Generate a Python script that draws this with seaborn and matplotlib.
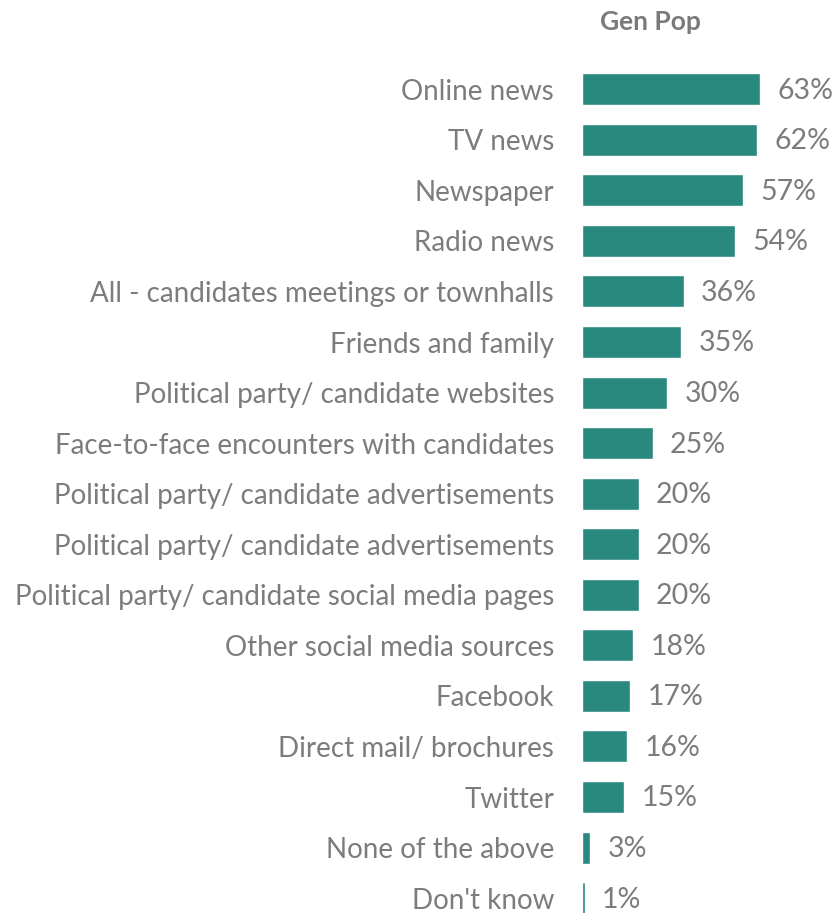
import matplotlib
matplotlib.use("Agg")
import matplotlib.pyplot as plt
import seaborn as sns
import pandas as pd

# Information sources and share of the general population using each
categories = [
    "Online news",
    "TV news",
    "Newspaper",
    "Radio news",
    "All - candidates meetings or townhalls",
    "Friends and family",
    "Political party/ candidate websites",
    "Face-to-face encounters with candidates",
    "Political party/ candidate advertisements",
    "Political party/ candidate advertisements",
    "Political party/ candidate social media pages",
    "Other social media sources",
    "Facebook",
    "Direct mail/ brochures",
    "Twitter",
    "None of the above",
    "Don't know",
]
values = [63, 62, 57, 54, 36, 35, 30, 25, 20, 20, 20, 18, 17, 16, 15, 3, 1]
series_title = "Gen Pop"

BAR = "#2a897f"
TEXT = "#7c7c7c"

sns.set_theme(style="white")
plt.rcParams["font.family"] = ["Lato", "DejaVu Sans"]

df = pd.DataFrame({"pos": range(len(values)), "value": values})

W, H = 835, 913
fig = plt.figure(figsize=(W / 100, H / 100), dpi=100)
left_px, top_px, bot_px = 582, 64, 923.4
ax = fig.add_axes([left_px / W, 1 - bot_px / H, 1 - left_px / W, (bot_px - top_px) / H])

sns.barplot(data=df, x="value", y="pos", orient="h", color=BAR,
            width=0.633, saturation=1, ax=ax, order=list(range(len(values))))

ax.set_xlim(0, (W - left_px) / 2.83)
ax.set_ylim(len(values) - 0.5, -0.5)
ax.set_yticks(range(len(categories)))
ax.set_yticklabels(categories, fontsize=20, color=TEXT, fontweight="normal")
ax.tick_params(axis="y", length=0, pad=20)
ax.set_xticks([])
ax.set_xlabel("")
ax.set_ylabel("")
for s in ax.spines.values():
    s.set_visible(False)

for i, v in enumerate(values):
    ax.annotate(f"{v}%", xy=(v, i), xytext=(12.5, -1), textcoords="offset points",
                ha="left", va="center", fontsize=20.5, color=TEXT,
                fontweight="normal")

fig.text(650 / W, 1 - 22 / H, series_title, ha="center", va="center",
         fontsize=19, fontweight="bold", color="#7a7a7a")

fig.savefig("out.png", dpi=100)
